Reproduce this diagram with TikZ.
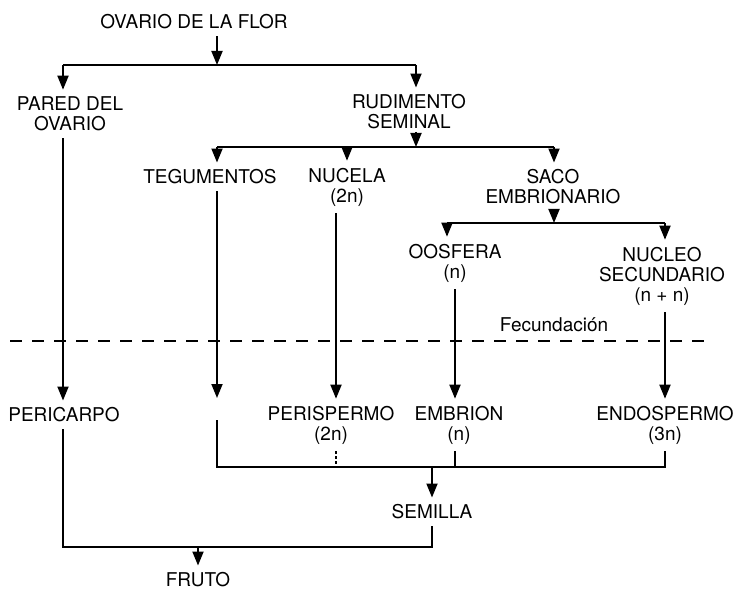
\documentclass[tikz,border=0pt]{standalone}
\usepackage{fontspec}
\setmainfont{TeX Gyre Heros}
\usetikzlibrary{arrows.meta}

\begin{document}
\begin{tikzpicture}[
    x=1pt, y=-1pt,
    organ/.style={font=\fontsize{19}{20}\selectfont, align=center, inner sep=7pt},
    link/.style={line width=1.8pt},
    arrow/.style={link, -{Triangle[width=11pt, length=14pt]}},
    dotlink/.style={line width=1.3pt, dash pattern=on 3pt off 2pt},
    fecline/.style={line width=1.8pt, dash pattern=on 12pt off 10pt},
]
\useasboundingbox (0,0) rectangle (737,591);

% Ovario
\node[organ] (flor) at (194,22) {OVARIO DE LA FLOR};
\node[organ] (pared) at (70,114) {PARED DEL\\OVARIO};
\node[organ] (rudi) at (409,112) {RUDIMENTO\\SEMINAL};

\coordinate (j1) at (217,65);
\coordinate (j1l) at (63,65);
\coordinate (j1r) at (416,65);
\draw[arrow] (flor.south -| j1) -- (j1);
\draw[link] (j1l) -- (j1r);
\draw[arrow] (j1l) -- (pared.north -| j1l);
\draw[arrow] (j1r) -- (rudi.north -| j1r);

% Rudimento seminal
\node[organ] (teg) at (210,177) {TEGUMENTOS};
\node[organ] (nuc) at (347,187) {NUCELA\\(2n)};
\node[organ] (saco) at (553,187) {SACO\\EMBRIONARIO};

\coordinate (j2) at (416,147);
\coordinate (j2l) at (217,147);
\coordinate (j2r) at (554,147);
\draw[arrow] ([yshift=15pt]j2) -- (j2);
\draw[link] (j2l) -- (j2r);
\draw[arrow] (j2l) -- (teg.north -| j2l);
\draw[arrow] (j2 -| nuc) -- (nuc.north);
\draw[arrow] (j2r) -- (saco.north -| j2r);

% Saco embrionario
\node[organ] (oos) at (455,263) {OOSFERA\\(n)};
\node[organ] (nsec) at (662,276) {NUCLEO\\SECUNDARIO\\(n + n)};

\coordinate (j3) at (554,223);
\coordinate (j3l) at (447,223);
\coordinate (j3r) at (665,223);
\draw[arrow] (saco.south -| j3) -- (j3);
\draw[link] (j3l) -- (j3r);
\draw[arrow] (j3l) -- (oos.north -| j3l);
\draw[arrow] (j3r) -- (nsec.north -| j3r);

% Fecundacion
\node[organ] (fec) at (554,325) {Fecundación};
\coordinate (fl) at (10,341);
\coordinate (fr) at (712,341);
\draw[fecline] (fl) -- (fr);

% After fertilization
\node[organ] (peri) at (64,415) {PERICARPO};
\node[organ] (peris) at (331,425) {PERISPERMO\\(2n)};
\node[organ] (embr) at (459,425) {EMBRION\\(n)};
\node[organ] (endo) at (665,425) {ENDOSPERMO\\(3n)};

\coordinate (j4) at (432,467);
\coordinate (j4l) at (217,467);
\coordinate (j4n) at (336,467);
\coordinate (j4e) at (455,467);
\coordinate (j4r) at (665,467);
\coordinate (tegend) at (217,398);
\coordinate (tegstart) at (217,420);

\draw[arrow] (pared.south -| j1l) -- (peri.north -| j1l);
\draw[arrow] (teg.south -| j2l) -- (tegend);
\draw[arrow] (nuc.south -| j4n) -- (peris.north -| j4n);
\draw[arrow] (oos.south -| j4e) -- (embr.north -| j4e);
\draw[arrow] (nsec.south -| j4r) -- (endo.north -| j4r);

% Semilla
\node[organ] (sem) at (432,512) {SEMILLA};
\draw[link] (tegstart) -- (j4l) -- (j4r) -- (endo.south -| j4r);
\draw[link] (embr.south -| j4e) -- (j4e);
\draw[dotlink] (peris.south -| j4n) -- (j4n);
\draw[arrow] (j4) -- (sem.north);

% Fruto
\node[organ] (fruto) at (198,580) {FRUTO};
\coordinate (j5) at (198,547);
\coordinate (j5l) at (63,547);
\coordinate (j5r) at (432,547);
\draw[link] (peri.south -| j5l) -- (j5l) -- (j5r) -- (sem.south);
\draw[arrow] (j5) -- (fruto.north);

\end{tikzpicture}
\end{document}
